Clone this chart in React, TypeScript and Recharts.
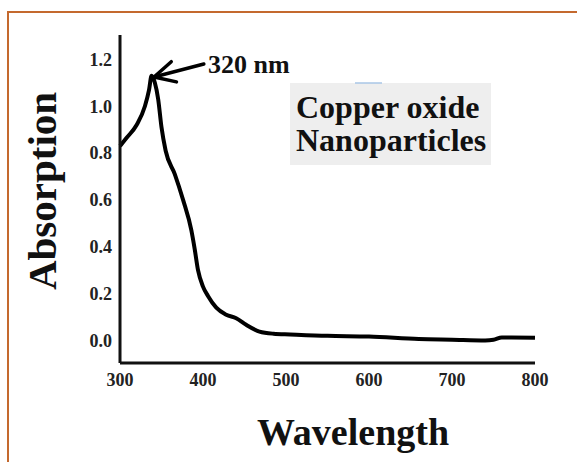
import { Line, LineChart, ReferenceLine, XAxis, YAxis } from "recharts";

const wavelength = [300, 308, 320, 330, 335, 338, 342, 346, 350, 355, 366, 376, 386, 390, 394, 400, 406, 416, 428, 440, 452, 468, 485, 505, 550, 600, 660, 700, 740, 750, 760, 800];
const absorption = [0.83, 0.865, 0.92, 1.0, 1.07, 1.13, 1.1, 1.03, 0.91, 0.81, 0.71, 0.6, 0.47, 0.39, 0.3, 0.23, 0.19, 0.14, 0.11, 0.095, 0.067, 0.038, 0.029, 0.026, 0.02, 0.017, 0.006, 0.003, 0.0, 0.003, 0.013, 0.012];
const xTicks = [300, 400, 500, 600, 700, 800];
const yTicks = [0, 0.2, 0.4, 0.6, 0.8, 1.0, 1.2];

const data = wavelength.map((w, i) => ({ w, a: absorption[i] }));

const FONT = '"Liberation Serif", "Times New Roman", serif';

function Arrow(props: any) {
  const { x1, y1, x2, y2 } = props;
  const ang = Math.atan2(y2 - y1, x2 - x1);
  const len = 23;
  const spread = (27 * Math.PI) / 180;
  const bx1 = x1 + len * Math.cos(ang - spread);
  const by1 = y1 + len * Math.sin(ang - spread);
  const bx2 = x1 + len * Math.cos(ang + spread);
  const by2 = y1 + len * Math.sin(ang + spread);
  return (
    <g stroke="#000" strokeWidth={3.5} strokeLinecap="round" fill="none">
      <line x1={x1} y1={y1} x2={x2} y2={y2} />
      <polyline points={`${bx1},${by1} ${x1},${y1} ${bx2},${by2}`} strokeLinejoin="round" />
    </g>
  );
}

export default function App() {
  return (
    <div style={{ position: "fixed", left: 0, top: 0, width: 577, height: 462, overflow: "hidden", background: "#fff" }}>
      <div style={{ position: "absolute", left: 7, top: 11, width: 620, height: 520, border: "2px solid #c4692e" }} />
      <div style={{ position: "absolute", left: 0, top: 0 }}>
        <LineChart width={577} height={462} data={data} margin={{ top: 35, right: 42, bottom: 39, left: 0 }}>
          <rect x={290} y={83} width={201} height={82} fill="#eeeeee" />
          <line x1={355} y1={83} x2={382} y2={83} stroke="#a9c6e6" strokeWidth={1.5} />
          <text x={296} y={118} fontFamily={FONT} fontWeight="bold" fontSize={32} fill="#111">Copper oxide</text>
          <text x={296} y={151} fontFamily={FONT} fontWeight="bold" fontSize={32} fill="#111">Nanoparticles</text>
          <text x={208} y={73} fontFamily={FONT} fontWeight="bold" fontSize={26} fill="#111">320 nm</text>
          <text x={42} y={191} transform="rotate(-90 42 191)" textAnchor="middle" dominantBaseline="central" fontFamily={FONT} fontWeight="bold" fontSize={41} fill="#111">Absorption</text>
          <text x={353} y={445} textAnchor="middle" fontFamily={FONT} fontWeight="bold" fontSize={38} fill="#111">Wavelength</text>
          <XAxis
            dataKey="w"
            type="number"
            domain={[300, 800]}
            ticks={xTicks}
            height={60}
            tickLine={false}
            tickMargin={4}
            axisLine={{ stroke: "#111", strokeWidth: 3 }}
            tick={{ fill: "#222", fontSize: 18, fontFamily: FONT, fontWeight: "bold" }}
          />
          <YAxis
            type="number"
            domain={[-0.096, 1.304]}
            ticks={yTicks}
            width={120}
            allowDataOverflow
            tickLine={false}
            axisLine={{ stroke: "#111", strokeWidth: 3 }}
            tickFormatter={(v: number) => v.toFixed(1)}
            tick={{ fill: "#222", fontSize: 18, fontFamily: FONT, fontWeight: "bold" }}
          />
          <ReferenceLine segment={[{ x: 341, y: 1.125 }, { x: 401, y: 1.18 }]} shape={Arrow} ifOverflow="visible" />
          <Line
            type="monotone"
            dataKey="a"
            stroke="#000"
            strokeWidth={4}
            dot={false}
            activeDot={false}
            isAnimationActive={false}
          />
        </LineChart>
      </div>
    </div>
  );
}
